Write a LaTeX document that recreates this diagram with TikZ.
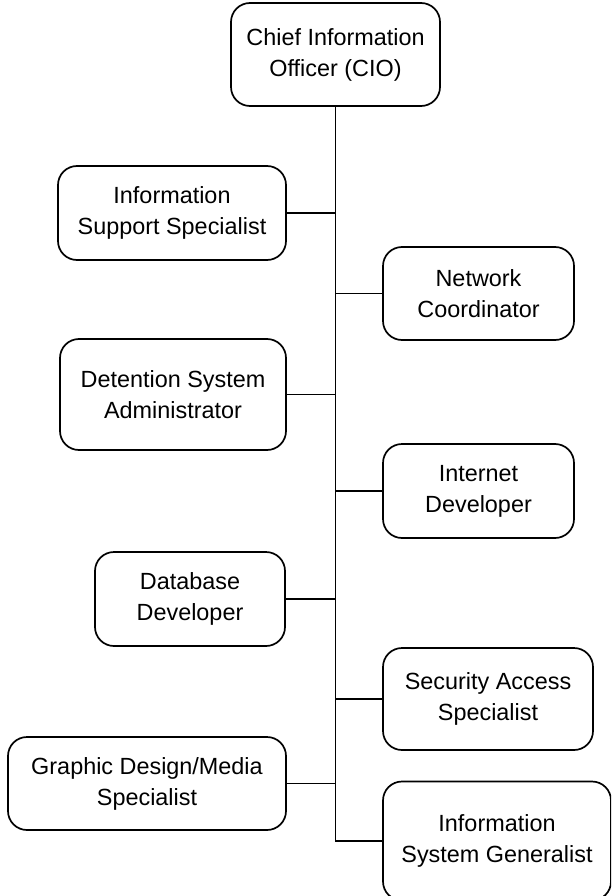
\documentclass[tikz,border=0pt]{standalone}
\usepackage{fontspec}
\setmainfont{Liberation Sans}
\begin{document}
\begin{tikzpicture}[x=1pt,y=-1pt,
  role/.style={draw=black, line width=1.7pt, rounded corners=19pt, fill=white,
    align=center, inner sep=0pt, outer sep=0pt,
    font=\fontsize{23.4pt}{31pt}\selectfont},
  link/.style={draw=black, line width=1.7pt}]
  \useasboundingbox (0,0) rectangle (611,896);
  \clip (0,0) rectangle (611,896);
  % head of the unit
  \node[role, minimum width=209pt, minimum height=103pt] (cio) at (335.5,54.5)
    {Chief Information\\Officer (CIO)};
  % left-hand staff
  \node[role, minimum width=228pt, minimum height=94pt] (iss) at (172,213)
    {Information\\Support Specialist};
  \node[role, minimum width=226pt, minimum height=111pt] (det) at (173,394.5)
    {Detention System\\Administrator};
  \node[role, minimum width=190pt, minimum height=94pt] (dbd) at (190,599)
    {Database\\Developer};
  \node[role, minimum width=278pt, minimum height=93pt] (gdm) at (147,783.5)
    {Graphic Design/Media\\Specialist};
  % right-hand staff
  \node[role, minimum width=191pt, minimum height=93pt] (net) at (478.5,293.5)
    {Network\\Coordinator};
  \node[role, minimum width=191pt, minimum height=94pt] (inet) at (478.5,491)
    {Internet\\Developer};
  \node[role, minimum width=210pt, minimum height=102pt] (sec) at (488,699)
    {Security Access\\Specialist};
  \node[role, minimum width=228pt, minimum height=119pt] (isg) at (497,841)
    {Information\\System Generalist};
  % trunk line and branches
  \draw[link] (cio.south) -- (cio.south |- isg.west) -- (isg.west);
  \foreach \n in {iss,det,dbd,gdm}
    \draw[link] (\n.east) -- (\n.east -| cio.south);
  \foreach \n in {net,inet,sec}
    \draw[link] (\n.west) -- (\n.west -| cio.south);
\end{tikzpicture}
\end{document}
